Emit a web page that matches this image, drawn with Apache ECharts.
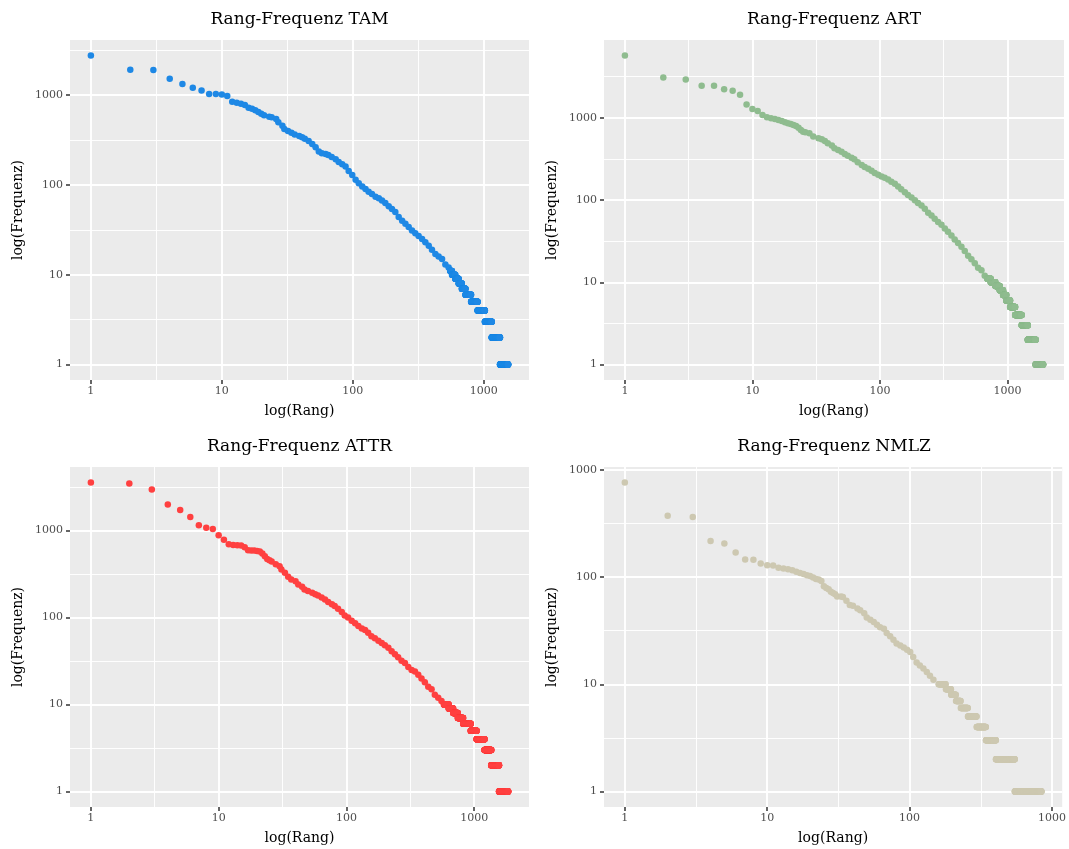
<!DOCTYPE html>
<html>
<head>
<meta charset="utf-8">
<script src="https://cdn.jsdelivr.net/npm/echarts@6/dist/echarts.min.js"></script>
<style>
html,body{margin:0;padding:0;background:#fff;}
#chart{width:1069px;height:849px;}
</style>
</head>
<body>
<div id="chart"></div>
<script>
// ---- data (rank, frequency) ----
// head/body points
const tamRank = [1,2,3,4,5,6,7,8,9,10,11,12,13,14,15,16,17,18,19,20,21,23,24,26,27,29,30,32,34,36,39,41,43,46,49,52,55,58,62,65,69,74,78,83,88,93,99,105,111,118,125,132,140,149,158,167,177,188,199,211,224,238,252,267,283,300,318,338,358,380,402,427,452,480,509,539];
const tamFreq = [2760,1910,1900,1520,1325,1205,1125,1030,1025,1015,975,843,822,801,774,722,705,676,648,621,595,575,565,541,497,456,419,398,381,365,350,339,327,308,285,262,235,225,221,215,205,193,180,170,160,143,129,114,104,96,90,84,79,74,71,67,63,58,54,50,44,40,37,34,31,29,27,25,23,21,19,17,16,15,13,12];
// tail: runs of equal frequency (first rank of each run), last rank
const tamTailFreq  = [11,10,9,8,7,6,5,4,3,2,1];
const tamTailStart = [555,572,606,643,680,725,800,897,1020,1150,1330];
const tamMaxRank = 1534;

const artRank = [1,2,3,4,5,6,7,8,9,10,11,12,13,14,15,16,17,18,19,20,21,22,23,24,25,26,28,30,33,35,37,39,42,44,47,50,53,56,60,63,67,72,76,81,86,91,97,103,109,116,123,131,139,147,157,166,177,188,199,212,225,239,254,269,286,304,323,342,364,386,410,436,463,492,522,555,589,626,664];
const artFreq = [5710,3090,2920,2450,2440,2210,2130,1900,1450,1276,1206,1079,1010,982,964,937,912,879,855,839,815,793,757,709,677,664,646,589,562,547,522,489,458,425,406,387,363,346,327,313,287,267,252,239,226,213,202,193,186,177,167,157,146,135,124,115,107,99,92,86,78,70,65,59,54,50,45,41,37,33,30,27,24,21,19,17,15,14,12];
const artTailFreq  = [11,10,9,8,7,6,5,4,3,2,1];
const artTailStart = [697,740,805,871,925,980,1050,1150,1295,1445,1665];
const artMaxRank = 1905;

const attrRank = [1,2,3,4,5,6,7,8,9,10,11,12,13,14,15,16,17,18,19,20,21,22,23,24,25,26,28,30,31,33,35,37,40,42,45,47,50,54,57,60,64,68,72,77,81,86,92,97,103,110,117,124,132,140,148,157,167,178,189,200,213,226,240,254,270,287,305,324,344,365,387,411,437,464,492,523,555];
const attrFreq = [3580,3485,2974,2002,1725,1433,1150,1082,1045,884,788,697,684,679,673,644,594,589,589,585,574,545,507,473,457,441,411,390,357,327,294,274,262,240,226,211,202,193,186,180,170,162,151,142,136,126,116,106,100,92,86,80,75,72,67,61,58,54,51,48,45,41,38,35,32,30,27,25,24,22,20,18,16,15,13,12,11];
const attrTailFreq  = [10,9,8,7,6,5,4,3,2,1];
const attrTailStart = [580,632,685,745,820,940,1045,1205,1360,1565];
const attrMaxRank = 1844;

const nmlzRank = [1,2,3,4,5,6,7,8,9,10,11,12,13,14,15,16,17,18,19,20,21,22,23,24,25,26,27,28,29,30,31,33,34,36,38,40,43,45,48,50,53,56,59,62,66,69,73,77,81,86,91,96,101,106,112,118,125,132,139,147];
const nmlzFreq = [762,373,363,217,206,169,146,145,134,129,128,122,120,118,116,112,109,107,104,102,99,96,95,92,82,79,77,73,71,69,66,66,65,60,55,54,51,49,46,42,40,38,36,34,33,30,28,26,24,23,22,21,20,18,16,15,14,13,12,11];
const nmlzTailFreq  = [10,9,8,7,6,5,4,3,2,1];
const nmlzTailStart = [160,180,196,212,229,257,296,344,404,548];
const nmlzMaxRank = 842;

// tick labels
const rankTicks = [1,10,100,1000];
const freqTicks = [1,10,100,1000];

const titles = ['Rang-Frequenz TAM','Rang-Frequenz ART','Rang-Frequenz ATTR','Rang-Frequenz NMLZ'];
const colors = ['#1E88E5','#8FBC8F','#FF4040','#CDC8B1'];

// ---- build ----
function buildPoints(rank, freq, tailFreq, tailStart, maxRank) {
  const pts = rank.map((r, i) => [r, freq[i]]);
  tailFreq.forEach((f, i) => {
    const end = i + 1 < tailStart.length ? tailStart[i + 1] - 1 : maxRank;
    for (let r = tailStart[i]; r <= end; r++) pts.push([r, f]);
  });
  return pts;
}
const datasets = [
  buildPoints(tamRank, tamFreq, tamTailFreq, tamTailStart, tamMaxRank),
  buildPoints(artRank, artFreq, artTailFreq, artTailStart, artMaxRank),
  buildPoints(attrRank, attrFreq, attrTailFreq, attrTailStart, attrMaxRank),
  buildPoints(nmlzRank, nmlzFreq, nmlzTailFreq, nmlzTailStart, nmlzMaxRank)
];

// ggplot-like 5% expansion in log space (data range starts at 1)
function expand(maxV) {
  const L = Math.log10(maxV);
  return [Math.pow(10, -0.05 * L), Math.pow(10, 1.05 * L)];
}
function minorOf(ticks, lo, hi) {
  const s = Math.sqrt(10), out = [];
  ticks.forEach(t => [t / s, t * s].forEach(v => {
    if (v > lo && v < hi && !out.some(o => Math.abs(o - v) / v < 1e-6)) out.push(v);
  }));
  return out;
}

const FONT = "'DejaVu Serif', serif";
const grids = [
  {left: 70,  top: 40,  width: 459, height: 340},
  {left: 604, top: 40,  width: 460, height: 340},
  {left: 70,  top: 467, width: 459, height: 340},
  {left: 604, top: 467, width: 460, height: 340}
];
const titleTops = [11, 11, 438, 438];

const option = {
  animation: false,
  backgroundColor: '#ffffff',
  title: [], grid: [], xAxis: [], yAxis: [], series: []
};

datasets.forEach((pts, i) => {
  const g = grids[i];
  const maxRank = pts.reduce((m, p) => Math.max(m, p[0]), 0);
  const maxFreq = pts.reduce((m, p) => Math.max(m, p[1]), 0);
  const xr = expand(maxRank), yr = expand(maxFreq);

  option.title.push({
    text: titles[i], left: g.left + g.width / 2, top: titleTops[i], textAlign: 'center', padding: 0,
    textStyle: {fontFamily: FONT, fontSize: 17, fontWeight: 'normal', color: '#000'}
  });
  option.grid.push(Object.assign({show: true, backgroundColor: '#EBEBEB', borderWidth: 0}, g));

  const labelFmt = v => String(Math.round(v));
  const majorAxisBase = (ticks, min, max) => ({
    gridIndex: i, type: 'log', logBase: 10, min: min, max: max,
    axisLine: {show: false},
    axisTick: {show: true, length: 4, customValues: ticks, lineStyle: {color: '#333333', width: 1.5}},
    axisLabel: {customValues: ticks, formatter: labelFmt, color: '#4D4D4D', fontFamily: FONT, fontSize: 11},
    splitLine: {show: true, lineStyle: {color: '#FFFFFF', width: 1.9}},
    nameTextStyle: {fontFamily: FONT, fontSize: 14, color: '#000'}
  });
  const minorAxis = (ticks, min, max, pos) => ({
    gridIndex: i, type: 'log', logBase: 10, min: min, max: max, position: pos,
    axisLine: {show: false}, axisLabel: {show: false},
    axisTick: {show: false, customValues: minorOf(ticks, min, max)},
    splitLine: {show: true, lineStyle: {color: '#FFFFFF', width: 0.95}}
  });

  const xa = majorAxisBase(rankTicks, xr[0], xr[1]);
  xa.position = 'bottom';
  xa.axisLabel.margin = 6;
  xa.name = 'log(Rang)'; xa.nameLocation = 'middle'; xa.nameGap = 24;
  const ya = majorAxisBase(freqTicks, yr[0], yr[1]);
  ya.position = 'left';
  ya.axisLabel.margin = 7;
  ya.name = 'log(Frequenz)'; ya.nameLocation = 'middle'; ya.nameGap = 45;

  option.xAxis.push(xa, minorAxis(rankTicks, xr[0], xr[1], 'bottom'));
  option.yAxis.push(ya, minorAxis(freqTicks, yr[0], yr[1], 'left'));

  option.series.push({
    type: 'scatter', xAxisIndex: 2 * i, yAxisIndex: 2 * i,
    data: pts, symbol: 'circle', symbolSize: 6.5, silent: true,
    itemStyle: {color: colors[i], opacity: 1}
  });
});

const chart = echarts.init(document.getElementById('chart'), null, {renderer: 'canvas'});
chart.setOption(option);
</script>
</body>
</html>
